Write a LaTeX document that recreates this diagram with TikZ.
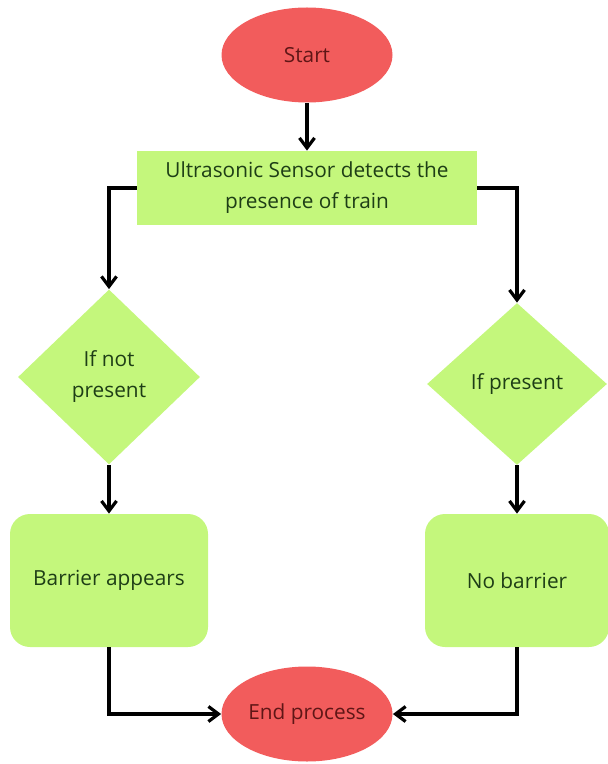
\documentclass[tikz,border=0pt]{standalone}
\usepackage{fontspec}
\setmainfont{Open Sans}
\usetikzlibrary{shapes.geometric,arrows.meta}
\definecolor{boxgreen}{RGB}{196,247,124}
\definecolor{termred}{RGB}{242,92,92}
\definecolor{textgreen}{RGB}{30,62,22}
\definecolor{textred}{RGB}{95,22,22}
\tikzset{
  term/.style={ellipse, fill=termred, text=textred, minimum width=85.5pt, minimum height=47.5pt, inner sep=0pt},
  procbox/.style={rectangle, fill=boxgreen, text=textgreen, align=center, minimum width=170pt, minimum height=37pt, inner sep=0pt},
  decide/.style={diamond, fill=boxgreen, text=textgreen, align=center, inner sep=0pt},
  outcome/.style={rectangle, rounded corners=10pt, fill=boxgreen, text=textgreen, minimum height=66.5pt},
  flow/.style={line width=1.6pt, -{Straight Barb[length=5pt,width=7.5pt]}},
}
\begin{document}
\begin{tikzpicture}[x=0.5pt,y=-0.5pt,font=\fontsize{10.4}{15.5}\selectfont]
\useasboundingbox (0,0) rectangle (607,764);
\node[term] (start) at (307,55) {Start};
\node[procbox] (sensor) at (307,188) {Ultrasonic Sensor detects the\\presence of train};

\node[decide, minimum width=91pt, minimum height=87.5pt] (notpres) at (109,377) {If not\\present};
\node[decide, minimum width=90pt, minimum height=81pt] (pres) at (517,384) {If present};

\node[outcome, minimum width=99pt] (barrier) at (109,580.5) {Barrier appears};
\node[outcome, minimum width=92pt] (nobarrier) at (517,580.5) {No barrier};

\node[term] (endp) at (307,714) {End process};

\draw[flow] (start) -- (sensor);
\draw[flow] (sensor.west) -| (notpres.north);
\draw[flow] (sensor.east) -| (pres.north);
\draw[flow] (notpres) -- (barrier);
\draw[flow] (pres) -- (nobarrier);
\draw[flow] (barrier.south) |- (endp.west);
\draw[flow] (nobarrier.south) |- (endp.east);
\end{tikzpicture}
\end{document}
